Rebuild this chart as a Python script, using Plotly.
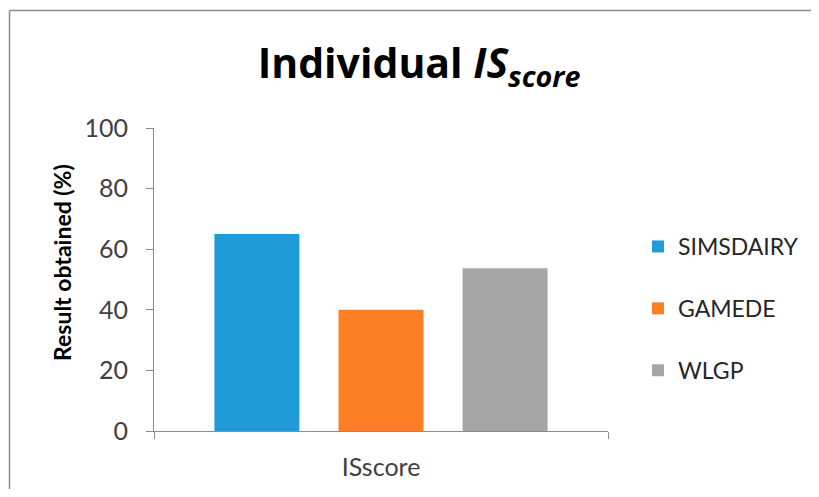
import plotly.graph_objects as go

categories = ["ISscore"]
series_names = ["SIMSDAIRY", "GAMEDE", "WLGP"]
series_values = [[65], [40], [53.7]]
series_colors = ["#1F9BD7", "#FD7F26", "#A5A5A5"]

# page has an 8px body margin, so the figure is drawn in a frame shifted by OFF
OFF = 8
W, H = 819 - 2 * OFF, 497 - 2 * OFF
L, T = 154 - OFF, 128 - OFF
pw, ph = 454, 303
R, B = W - L - pw, H - T - ph


def px_x(p):  # reference pixel -> paper x
    return (p - OFF - L) / pw


def px_y(p):  # reference pixel -> paper y
    return (T + ph - (p - OFF)) / ph


def cx(p):  # reference pixel -> container x
    return (p - OFF) / W


def cy(p):  # reference pixel -> container y
    return 1 - (p - OFF) / H


fig = go.Figure()
for name, vals, col in zip(series_names, series_values, series_colors):
    fig.add_trace(go.Bar(
        x=categories, y=vals, name=name, marker_color=col,
        marker_line_width=0, legendgroup=name,
    ))

border = "#8C8C8C"
shapes = [
    dict(type="line", xref="paper", yref="paper", x0=px_x(9.5), x1=px_x(830),
         y0=px_y(10.5), y1=px_y(10.5), line=dict(color=border, width=1.5)),
    dict(type="line", xref="paper", yref="paper", x0=px_x(9.5), x1=px_x(9.5),
         y0=px_y(10.5), y1=px_y(510), line=dict(color=border, width=1.5)),
]

annotations = [
    dict(text="<b>Result obtained (%)</b>", xref="paper", yref="paper",
         x=px_x(62), y=px_y(263), xanchor="center", yanchor="middle",
         textangle=-90, showarrow=False,
         font=dict(size=23, color="black", family="Lato, Open Sans, sans-serif")),
]

fig.update_layout(
    width=W, height=H,
    margin=dict(l=L, r=R, t=T, b=B, autoexpand=False),
    paper_bgcolor="white", plot_bgcolor="white",
    barmode="group", bargap=0.18, bargroupgap=0.315,
    font=dict(family="Lato, Open Sans, sans-serif", color="#404040"),
    title=dict(
        text="<b>Individual <i>IS</i><sub><i>score</i></sub></b>",
        x=cx(419), xref="container", xanchor="center",
        y=cy(64), yref="container", yanchor="middle",
        font=dict(size=41, color="black", family="Open Sans, Lato, sans-serif"),
    ),
    legend=dict(
        xref="container", yref="container",
        x=cx(638), xanchor="left", y=cy(225), yanchor="top",
        font=dict(size=23, color="#262626"),
        tracegroupgap=29, itemwidth=30,
    ),
    shapes=shapes,
    annotations=annotations,
    showlegend=True,
)
fig.update_xaxes(
    showline=True, linecolor="#8C8C8C", linewidth=1, automargin=False,
    ticks="outside", tickson="boundaries", ticklen=7, tickcolor="#8C8C8C",
    tickfont=dict(size=25, color="#404040"), ticklabelstandoff=14,
    showgrid=False,
)
fig.update_yaxes(
    range=[0, 100], dtick=20, showline=True, linecolor="#8C8C8C", linewidth=1,
    automargin=False,
    ticks="outside", ticklen=7, tickcolor="#8C8C8C",
    tickfont=dict(size=25, color="#404040"), ticklabelstandoff=13,
    showgrid=False, zeroline=False,
)

fig.write_html("out.html")
